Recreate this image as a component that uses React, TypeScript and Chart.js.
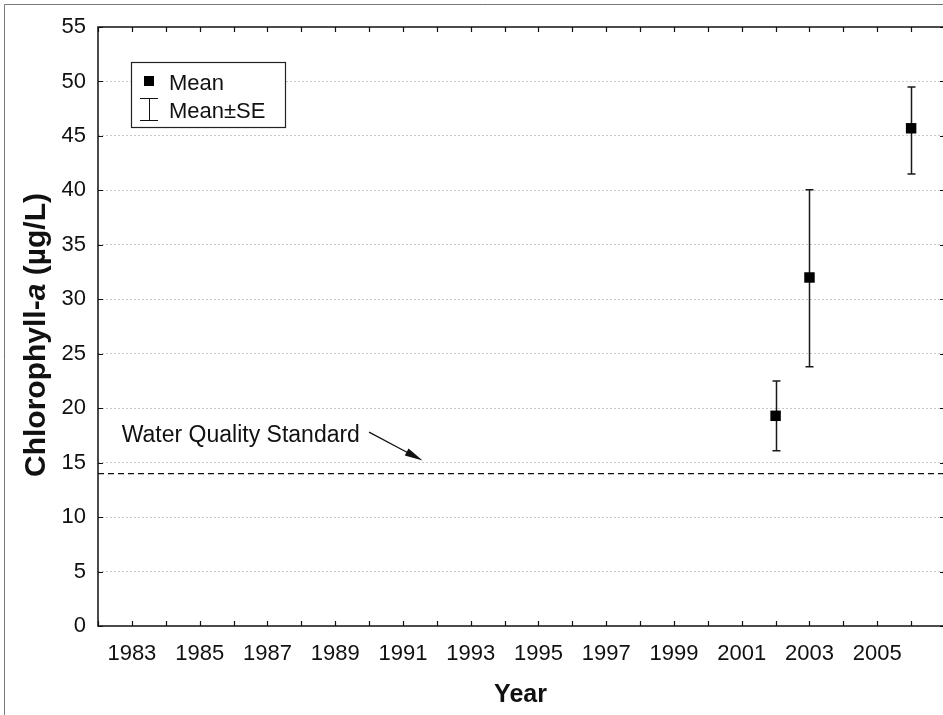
import React, { useEffect, useRef } from 'react';
import { Chart, registerables } from 'chart.js';

Chart.register(...registerables);

// ---- data ----
const years: number[] = [2002, 2003, 2006];
const means: number[] = [19.3, 32.0, 45.7];
const seUpper: number[] = [22.5, 40.05, 49.5];
const seLower: number[] = [16.1, 23.8, 41.5];
const standardValue = 14;
const xTickLabels: number[] = [1983, 1985, 1987, 1989, 1991, 1993, 1995, 1997, 1999, 2001, 2003, 2005];
const xMin = 1982;
const xMax = 2007;
const yMin = 0;
const yMax = 55;
const yStep = 5;
const annotationText = 'Water Quality Standard';
const legendLabels = ['Mean', 'Mean±SE'];

const FONT = '"Liberation Sans", Arial, Helvetica, sans-serif';
const CANVAS_W = 960;
const CANVAS_H = 715;

const decorPlugin = {
  id: 'decor',
  beforeDraw(chart: any) {
    const ctx = chart.ctx;
    ctx.save();
    ctx.fillStyle = '#ffffff';
    ctx.fillRect(0, 0, chart.width, chart.height);
    // outer frame (top and left)
    ctx.strokeStyle = '#777777';
    ctx.lineWidth = 1;
    ctx.beginPath();
    ctx.moveTo(4.5, chart.height);
    ctx.lineTo(4.5, 4.5);
    ctx.lineTo(chart.width, 4.5);
    ctx.stroke();
    ctx.restore();
  },
  beforeDatasetsDraw(chart: any) {
    const ctx = chart.ctx;
    const xs = chart.scales.x;
    const ys = chart.scales.y;
    ctx.save();
    ctx.strokeStyle = '#1a1a1a';
    ctx.lineWidth = 1.5;
    for (let i = 0; i < years.length; i++) {
      const x = Math.round(xs.getPixelForValue(years[i])) + 0.5;
      const yt = ys.getPixelForValue(seUpper[i]);
      const yb = ys.getPixelForValue(seLower[i]);
      ctx.beginPath();
      ctx.moveTo(x, yt);
      ctx.lineTo(x, yb);
      ctx.moveTo(x - 4, yt);
      ctx.lineTo(x + 4, yt);
      ctx.moveTo(x - 4, yb);
      ctx.lineTo(x + 4, yb);
      ctx.stroke();
    }
    ctx.restore();
  },
  afterDraw(chart: any) {
    const ctx = chart.ctx;
    const xs = chart.scales.x;
    const ys = chart.scales.y;
    const ca = chart.chartArea;
    ctx.save();

    // plot box
    ctx.strokeStyle = '#111111';
    ctx.lineWidth = 1.5;
    ctx.strokeRect(ca.left, ca.top, ca.right - ca.left, ca.bottom - ca.top);

    // inner ticks
    ctx.lineWidth = 1.2;
    ctx.beginPath();
    for (let yr = xMin; yr <= xMax; yr++) {
      const x = Math.round(xs.getPixelForValue(yr)) + 0.5;
      ctx.moveTo(x, ca.bottom);
      ctx.lineTo(x, ca.bottom - 5);
      ctx.moveTo(x, ca.top);
      ctx.lineTo(x, ca.top + 5);
    }
    for (let v = yMin; v <= yMax; v += yStep) {
      const y = Math.round(ys.getPixelForValue(v)) + 0.5;
      ctx.moveTo(ca.left, y);
      ctx.lineTo(ca.left + 5, y);
      ctx.moveTo(ca.right, y);
      ctx.lineTo(ca.right - 5, y);
    }
    ctx.stroke();

    // annotation text + arrow
    ctx.fillStyle = '#111111';
    ctx.font = `23px ${FONT}`;
    ctx.textAlign = 'left';
    ctx.textBaseline = 'alphabetic';
    const tx = xs.getPixelForValue(1982.7);
    const ty = ys.getPixelForValue(16.9);
    ctx.fillText(annotationText, tx, ty);
    const ax0 = xs.getPixelForValue(1990.0);
    const ay0 = ys.getPixelForValue(17.8);
    const ax1 = xs.getPixelForValue(1991.58);
    const ay1 = ys.getPixelForValue(15.2);
    const ang = Math.atan2(ay1 - ay0, ax1 - ax0);
    ctx.strokeStyle = '#111111';
    ctx.lineWidth = 1.2;
    ctx.beginPath();
    ctx.moveTo(ax0, ay0);
    ctx.lineTo(ax1 - 14 * Math.cos(ang), ay1 - 14 * Math.sin(ang));
    ctx.stroke();
    ctx.beginPath();
    ctx.moveTo(ax1, ay1);
    ctx.lineTo(ax1 - 18 * Math.cos(ang) + 4 * Math.sin(ang), ay1 - 18 * Math.sin(ang) - 4 * Math.cos(ang));
    ctx.lineTo(ax1 - 18 * Math.cos(ang) - 4 * Math.sin(ang), ay1 - 18 * Math.sin(ang) + 4 * Math.cos(ang));
    ctx.closePath();
    ctx.fill();

    // legend
    ctx.fillStyle = '#ffffff';
    ctx.fillRect(131.5, 62.5, 154, 65);
    ctx.strokeStyle = '#222222';
    ctx.lineWidth = 1.2;
    ctx.strokeRect(131.5, 62.5, 154, 65);
    ctx.fillStyle = '#000000';
    ctx.fillRect(144, 76, 10, 10);
    ctx.strokeStyle = '#111111';
    ctx.lineWidth = 1;
    ctx.beginPath();
    ctx.moveTo(149.5, 98);
    ctx.lineTo(149.5, 120);
    ctx.moveTo(140, 98.5);
    ctx.lineTo(158, 98.5);
    ctx.moveTo(140, 120.5);
    ctx.lineTo(158, 120.5);
    ctx.stroke();
    ctx.fillStyle = '#111111';
    ctx.font = `22px ${FONT}`;
    ctx.fillText(legendLabels[0], 169, 90);
    ctx.fillText(legendLabels[1], 169, 118);

    // x title
    ctx.font = `bold 25px ${FONT}`;
    ctx.textAlign = 'center';
    ctx.fillText('Year', (ca.left + 943) / 2, 702);

    // y title (mixed styles)
    ctx.translate(37, 335);
    ctx.rotate(-Math.PI / 2);
    ctx.textBaseline = 'middle';
    ctx.textAlign = 'left';
    const parts = [
      { t: 'Chlorophyll-', f: `bold 30px ${FONT}` },
      { t: 'a', f: `italic bold 30px ${FONT}` },
      { t: ' (µg/L)', f: `bold 30px ${FONT}` },
    ];
    let total = 0;
    for (const p of parts) {
      ctx.font = p.f;
      total += ctx.measureText(p.t).width;
    }
    let cx = -total / 2;
    for (const p of parts) {
      ctx.font = p.f;
      ctx.fillText(p.t, cx, 0);
      cx += ctx.measureText(p.t).width;
    }
    ctx.restore();
  },
};

export default function App() {
  const ref = useRef<HTMLCanvasElement>(null);

  useEffect(() => {
    if (!ref.current) return;
    const chart = new Chart(ref.current, {
      type: 'scatter',
      data: {
        datasets: [
          {
            label: 'Mean',
            data: years.map((y, i) => ({ x: y, y: means[i] })),
            pointStyle: 'rect',
            pointRadius: 7.4,
            pointHoverRadius: 7.4,
            backgroundColor: '#000000',
            borderColor: '#000000',
            borderWidth: 0,
          },
          {
            type: 'line',
            label: 'Water Quality Standard',
            data: [
              { x: xMin, y: standardValue },
              { x: xMax, y: standardValue },
            ],
            borderColor: '#111111',
            borderWidth: 1.3,
            borderDash: [6, 4],
            pointRadius: 0,
            fill: false,
          } as any,
        ],
      },
      options: {
        responsive: false,
        devicePixelRatio: 1,
        animation: false,
        layout: { padding: { left: 0, top: 27, right: CANVAS_W - 945, bottom: 0 } },
        plugins: {
          legend: { display: false },
          tooltip: { enabled: false },
        },
        scales: {
          x: {
            type: 'linear',
            min: xMin,
            max: xMax,
            border: { display: false },
            grid: { display: false, drawTicks: false },
            ticks: {
              stepSize: 1,
              autoSkip: false,
              maxRotation: 0,
              minRotation: 0,
              padding: 15,
              color: '#111111',
              font: { family: FONT, size: 22 },
              callback: (v: any) => (xTickLabels.includes(Number(v)) ? String(v) : ''),
            },
            afterFit: (s: any) => {
              s.height = 715 - 626;
            },
          },
          y: {
            type: 'linear',
            min: yMin,
            max: yMax,
            border: { display: false, dash: [2, 2] },
            grid: {
              color: (c: any) => (c.tick && (c.tick.value === yMin || c.tick.value === yMax) ? 'rgba(0,0,0,0)' : '#c8c8c8'),
              lineWidth: 1,
              drawTicks: false,
            },
            ticks: {
              stepSize: yStep,
              padding: 12,
              color: '#111111',
              font: { family: FONT, size: 22 },
            },
            afterFit: (s: any) => {
              s.width = 98;
            },
          },
        },
      } as any,
      plugins: [decorPlugin],
    });
    return () => chart.destroy();
  }, []);

  return (
    <div style={{ position: 'absolute', left: 0, top: 0, width: 943, height: 715, overflow: 'hidden', background: '#fff' }}>
      <canvas ref={ref} width={CANVAS_W} height={CANVAS_H} style={{ display: 'block' }} />
    </div>
  );
}
